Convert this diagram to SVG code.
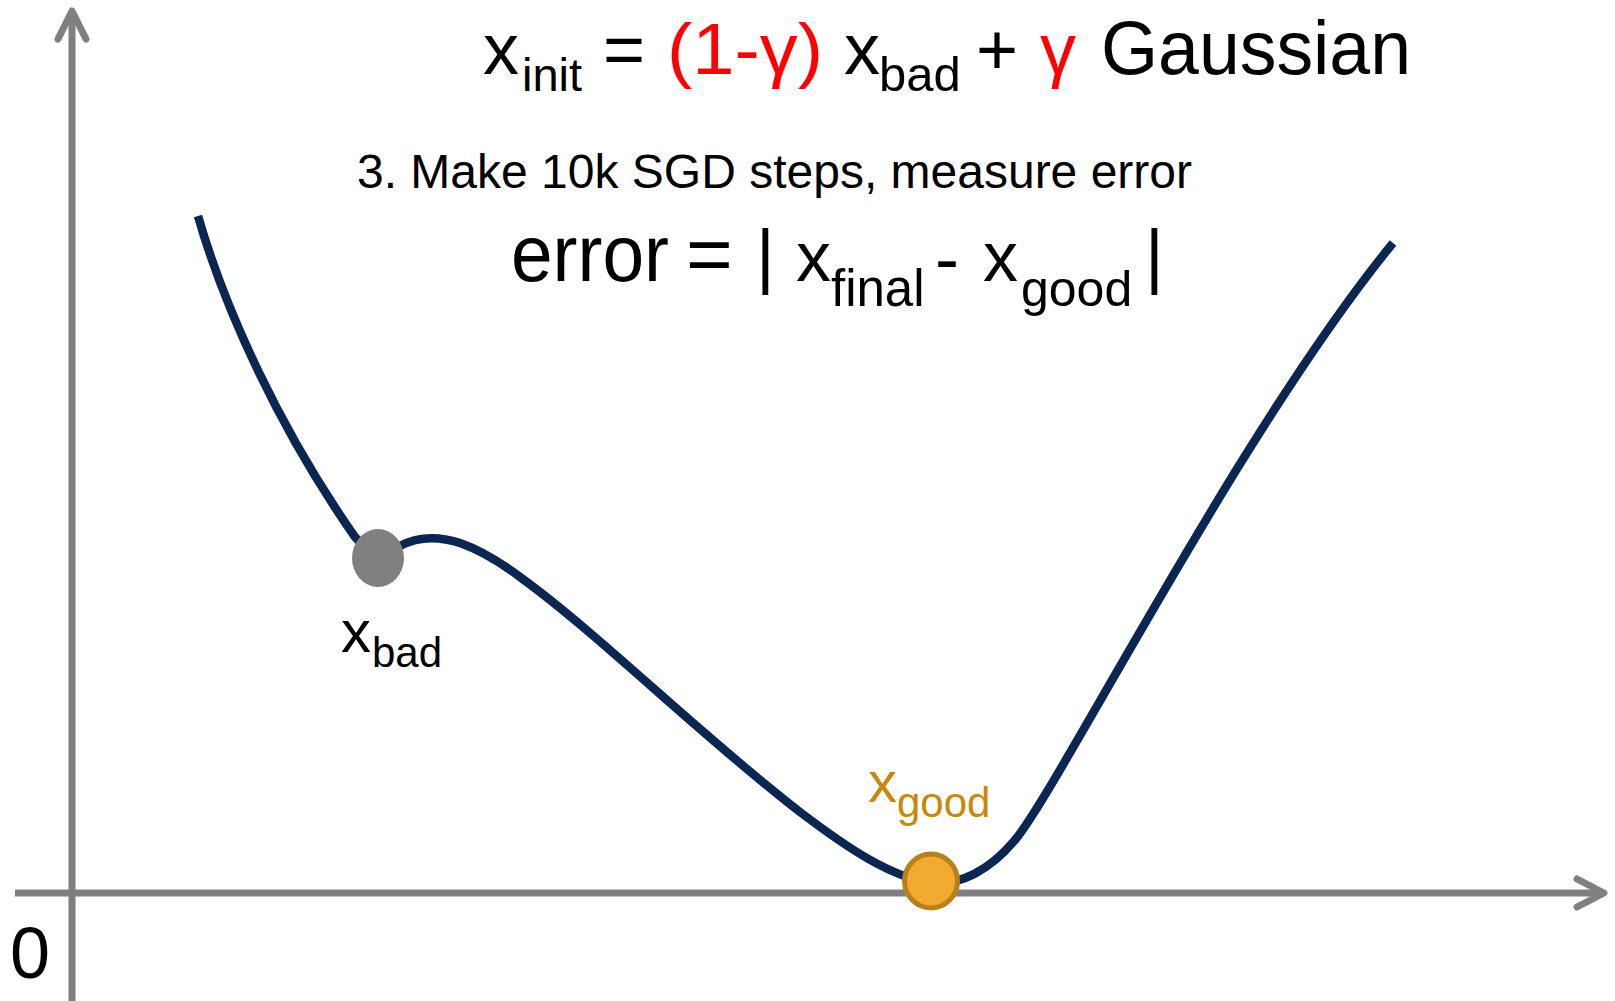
<svg xmlns="http://www.w3.org/2000/svg" width="1615" height="1001" viewBox="0 0 1615 1001">
<style>
text { font-family: "Liberation Sans", Arial, sans-serif; fill: #000; }
.red { fill: #ff0000; }
.gold { fill: #c9870c; }
.axis { stroke: #808080; stroke-width: 7; fill: none; }
.head { stroke: #808080; stroke-width: 7; fill: none; stroke-linecap: round; stroke-linejoin: round; }
.curve { stroke: #0b2650; stroke-width: 8.5; fill: none; stroke-linecap: butt; stroke-linejoin: round; }
</style>
<rect width="1615" height="1001" fill="#ffffff"/>
<g id="connectors">
  <line class="axis" x1="72" y1="14" x2="72" y2="1001"/>
  <polyline class="head" points="58,39 72,11 86,39"/>
  <line class="axis" x1="15" y1="893" x2="1602" y2="893"/>
  <polyline class="head" points="1577,879 1604,893 1577,907"/>
  <path id="curve" class="curve" d="M198,216 C225,310 280,430 355,537 C368,553 385,553 400,546 C415,538 435,535 460,543 C480,550 500,562 520,577 C600,635 700,735 800,812 C850,850 890,876 930,883 C960,886 990,870 1015,840 C1060,786 1240,430 1393,243"/>
</g>
<g id="axis-zero">
  <text x="10" y="978" font-size="72">0</text>
</g>
<g id="title">
  <text x="483" y="74" font-size="72">x</text>
  <text x="522" y="91" font-size="47">init</text>
  <text x="603" y="74" font-size="72">=</text>
  <text x="667" y="74" font-size="72" class="red" textLength="156" lengthAdjust="spacingAndGlyphs">(1-γ)</text>
  <text x="844" y="74" font-size="72">x</text>
  <text x="879" y="91" font-size="49">bad</text>
  <text x="976" y="74" font-size="72">+</text>
  <text x="1040" y="74" font-size="72" class="red">γ</text>
  <text x="1101" y="74" font-size="76" textLength="310" lengthAdjust="spacingAndGlyphs">Gaussian</text>
</g>
<g id="step">
  <text x="357" y="188" font-size="48">3. Make 10k SGD steps, measure error</text>
</g>
<g id="error">
  <text x="511" y="281" font-size="80" textLength="158" lengthAdjust="spacingAndGlyphs">error</text>
  <text x="686" y="281" font-size="80">=</text>
  <text x="756" y="280" font-size="72">|</text>
  <text x="796" y="281" font-size="70">x</text>
  <text x="831" y="306" font-size="51">final</text>
  <text x="935" y="283" font-size="72">-</text>
  <text x="983" y="281" font-size="70">x</text>
  <text x="1021" y="306" font-size="50">good</text>
  <text x="1145" y="280" font-size="72">|</text>
</g>
<g id="x-bad">
  <ellipse cx="378" cy="558" rx="26" ry="29" fill="#808080"/>
  <text x="341" y="652" font-size="60">x</text>
  <text x="372" y="667" font-size="42">bad</text>
</g>
<g id="x-good">
  <ellipse cx="931" cy="881" rx="26.5" ry="27" fill="#f2a930" stroke="#b8801c" stroke-width="5"/>
  <text x="868" y="802" font-size="58" class="gold">x</text>
  <text x="897" y="817" font-size="42" class="gold">good</text>
</g>
</svg>
